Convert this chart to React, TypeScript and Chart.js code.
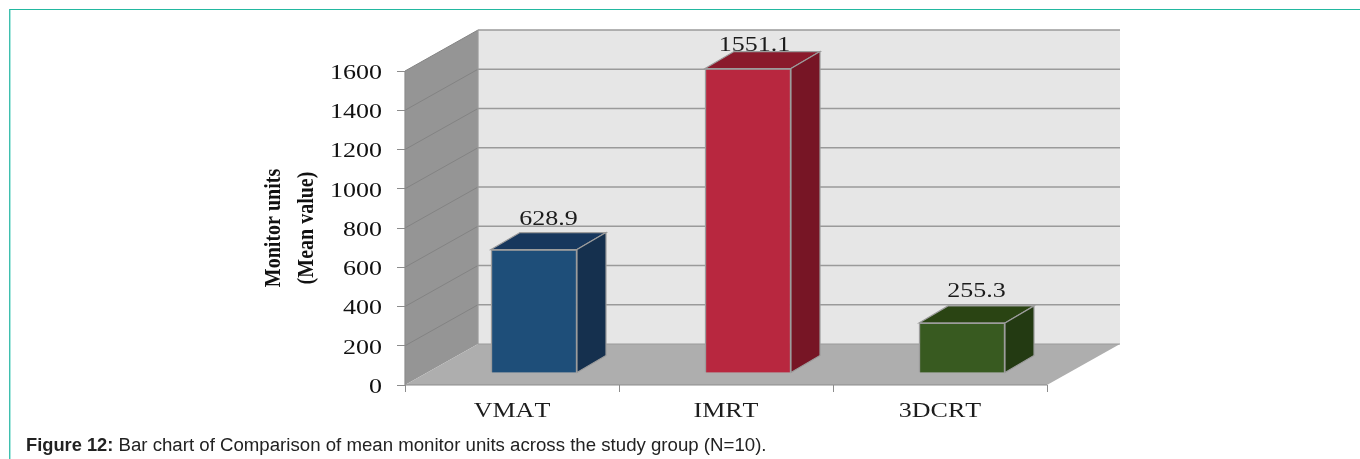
import React, { useEffect, useRef } from "react";
import { Chart, registerables } from "chart.js";

Chart.register(...registerables);

const categories = ["VMAT", "IMRT", "3DCRT"];
const meanMonitorUnits = [628.9, 1551.1, 255.3];
const valueLabels = ["628.9", "1551.1", "255.3"];
const labelLift = [8, 1, 9];
const labelShift = [0, -8, 0];
const frontColors = ["#1e4e79", "#b8273f", "#385a20"];
const topColors = ["#17375d", "#8a1a2c", "#2a4413"];
const sideColors = ["#15304e", "#771525", "#233a12"];
const yTitleLines = ["Monitor units", "(Mean value)"];

const SERIF = '"Liberation Serif", serif';
const STRETCH = 1.3;
const wall = { dx: 73, dy: -41 };
const barShift = { dx: 22, dy: -12 };
const barDepth = { dx: 29, dy: -17 };

function poly(ctx: CanvasRenderingContext2D, pts: number[][], fill: string, stroke?: string, lw = 1) {
  ctx.beginPath();
  pts.forEach((p, i) => (i ? ctx.lineTo(p[0], p[1]) : ctx.moveTo(p[0], p[1])));
  ctx.closePath();
  ctx.fillStyle = fill;
  ctx.fill();
  if (stroke) {
    ctx.strokeStyle = stroke;
    ctx.lineWidth = lw;
    ctx.stroke();
  }
}

function stretchedLabels(scale: any, nudgeY: number) {
  const original = scale.drawLabels.bind(scale);
  scale.drawLabels = (area: any) => {
    const ctx = scale.ctx as CanvasRenderingContext2D;
    const fill = ctx.fillText;
    ctx.fillText = function (t: string, x: number, y: number) {
      ctx.save();
      ctx.translate(x, y + nudgeY);
      ctx.scale(STRETCH, 1);
      (ctx as any).fontKerning = "none";
      fill.call(ctx, t, 0, 0);
      ctx.restore();
    } as any;
    original(area);
    delete (ctx as any).fillText;
  };
}

const scene3d = {
  id: "scene3d",
  beforeDraw(chart: any) {
    if (chart.$wrapped) return;
    chart.$wrapped = true;
    stretchedLabels(chart.scales.x, 0);
    stretchedLabels(chart.scales.y, 2.5);
  },
  beforeDatasetsDraw(chart: any) {
    const { ctx, chartArea: a, scales } = chart;
    const y = scales.y;
    const { dx, dy } = wall;
    ctx.save();
    poly(ctx, [[a.left + dx, a.top + dy], [a.right + dx, a.top + dy], [a.right + dx, a.bottom + dy], [a.left + dx, a.bottom + dy]], "#e6e6e6");
    poly(ctx, [[a.left, a.top], [a.left + dx, a.top + dy], [a.left + dx, a.bottom + dy], [a.left, a.bottom]], "#959595");
    poly(ctx, [[a.left, a.bottom], [a.left + dx, a.bottom + dy], [a.right + dx, a.bottom + dy], [a.right, a.bottom]], "#aeaeae");
    y.ticks.forEach((t: any) => {
      if (t.value === 0) return;
      const py = y.getPixelForValue(t.value);
      ctx.beginPath();
      ctx.moveTo(a.left + dx, py + dy);
      ctx.lineTo(a.right + dx, py + dy);
      ctx.strokeStyle = "#9a9a9a";
      ctx.lineWidth = 1.6;
      ctx.stroke();
      ctx.beginPath();
      ctx.moveTo(a.left, py);
      ctx.lineTo(a.left + dx, py + dy);
      ctx.strokeStyle = "#838383";
      ctx.lineWidth = 1;
      ctx.stroke();
    });
    ctx.beginPath();
    ctx.moveTo(a.left + dx, a.top + dy);
    ctx.lineTo(a.left + dx, a.bottom + dy);
    ctx.lineTo(a.right + dx, a.bottom + dy);
    ctx.strokeStyle = "#9a9a9a";
    ctx.lineWidth = 1.2;
    ctx.stroke();
    ctx.beginPath();
    ctx.moveTo(a.left, a.top);
    ctx.lineTo(a.left, a.bottom);
    ctx.lineTo(a.right, a.bottom);
    ctx.strokeStyle = "#8c8c8c";
    ctx.lineWidth = 1.2;
    ctx.stroke();
    ctx.restore();
  },
  beforeDatasetDraw(chart: any) {
    chart.ctx.save();
    chart.ctx.translate(barShift.dx, barShift.dy);
  },
  afterDatasetDraw(chart: any) {
    const ctx = chart.ctx as CanvasRenderingContext2D;
    const { dx, dy } = barDepth;
    chart.getDatasetMeta(0).data.forEach((bar: any, i: number) => {
      const l = bar.x - bar.width / 2;
      const r = bar.x + bar.width / 2;
      poly(ctx, [[l, bar.y], [l + dx, bar.y + dy], [r + dx, bar.y + dy], [r, bar.y]], topColors[i], "#9c9c9c", 1.2);
      poly(ctx, [[r, bar.y], [r + dx, bar.y + dy], [r + dx, bar.base + dy], [r, bar.base]], sideColors[i], "#9c9c9c", 1.2);
      ctx.save();
      ctx.translate(bar.x + dx / 2 + labelShift[i], bar.y + dy - labelLift[i]);
      ctx.scale(STRETCH, 1);
      ctx.font = `20px ${SERIF}`;
      ctx.fillStyle = "#1c1c1c";
      ctx.textAlign = "center";
      ctx.textBaseline = "alphabetic";
      ctx.fillText(valueLabels[i], 0, 0);
      ctx.restore();
    });
    ctx.restore();
  },
  afterDraw(chart: any) {
    const ctx = chart.ctx as CanvasRenderingContext2D;
    ctx.save();
    ctx.font = `bold 20px ${SERIF}`;
    ctx.fillStyle = "#111111";
    ctx.textAlign = "center";
    ctx.textBaseline = "middle";
    const cx = [274, 307];
    yTitleLines.forEach((line, i) => {
      ctx.save();
      ctx.translate(cx[i], 228);
      ctx.rotate(-Math.PI / 2);
      ctx.scale(1, 1.12);
      ctx.fillText(line, 0, 0);
      ctx.restore();
    });
    ctx.restore();
  },
};

export default function App() {
  const ref = useRef<HTMLCanvasElement>(null);
  useEffect(() => {
    document.body.style.margin = "0";
    const chart: any = new Chart(ref.current!, {
      type: "bar",
      data: {
        labels: categories,
        datasets: [
          {
            label: "Mean monitor units",
            data: meanMonitorUnits,
            backgroundColor: frontColors,
            borderColor: "#9c9c9c",
            borderWidth: 1.5,
            barThickness: 86,
            clip: false,
          } as any,
        ],
      },
      options: {
        animation: false,
        responsive: false,
        layout: { padding: { left: 305, right: 313, top: 71, bottom: 24 } },
        plugins: { legend: { display: false }, tooltip: { enabled: false } },
        scales: {
          x: {
            afterFit: (s: any) => { s.height = 50; },
            border: { display: false },
            grid: { drawOnChartArea: false, drawTicks: true, tickLength: 7, color: "#8c8c8c", offset: true },
            ticks: { font: { family: SERIF, size: 20 }, color: "#1c1c1c", padding: 8, maxRotation: 0 },
          },
          y: {
            min: 0,
            max: 1600,
            afterFit: (s: any) => { s.width = 100; },
            border: { display: false },
            grid: { drawOnChartArea: false, drawTicks: true, tickLength: 8, color: "#8c8c8c" },
            ticks: { stepSize: 200, font: { family: SERIF, size: 20 }, color: "#111111", padding: 15, callback: (v: any) => String(v) },
          },
        },
      },
      plugins: [scene3d],
    });
    chart.draw();
    return () => chart.destroy();
  }, []);
  return (
    <div style={{ position: "relative", width: 1360, height: 459, overflow: "hidden", background: "#fff" }}>
      <canvas ref={ref} width={1360} height={459} style={{ position: "absolute", left: 0, top: 0 }} />
      <div style={{ position: "absolute", left: 9, top: 9, right: 0, height: 1, background: "#22b8a0" }} />
      <div style={{ position: "absolute", left: 9, top: 9, bottom: 0, width: 1, background: "#3fbfae" }} />
      <div style={{ position: "absolute", left: 10, top: 10, bottom: 0, width: 1, background: "#a8e6dd" }} />
      <div style={{ position: "absolute", left: 26, top: 434, font: '18.3px "Liberation Sans", sans-serif', color: "#222", whiteSpace: "nowrap" }}>
        <b>Figure 12:</b> <span style={{ fontSize: 18.65 }}>Bar chart of Comparison of mean monitor units across the study group (N=10).</span>
      </div>
    </div>
  );
}
